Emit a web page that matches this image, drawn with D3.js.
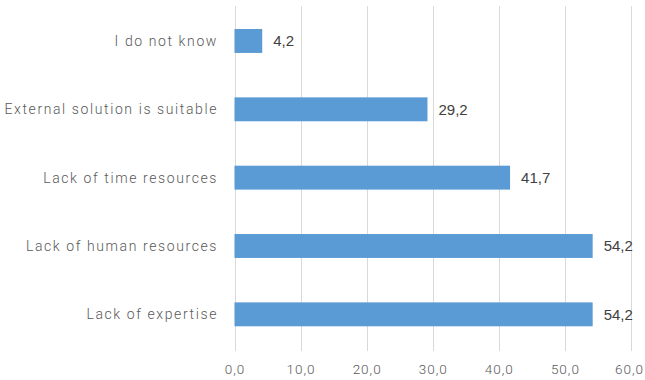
<!DOCTYPE html>
<html>
<head>
<meta charset="utf-8">
<script src="https://cdn.jsdelivr.net/npm/d3@7"></script>
<style>
  html, body { margin: 0; padding: 0; background: #fff; }
  .axis-text { font-family: Roboto, "DejaVu Sans", sans-serif; font-weight: 300; fill: #595959; }
  .value-text { font-family: "Liberation Sans", Arial, sans-serif; fill: #404040; }
</style>
</head>
<body>
<svg id="chart" width="645" height="380"></svg>
<script>
// Reasons, listed top to bottom
const categories = [
  "I do not know",
  "External solution is suitable",
  "Lack of time resources",
  "Lack of human resources",
  "Lack of expertise"
];
const values = [4.2, 29.2, 41.7, 54.2, 54.2];
const tickValues = [0, 10, 20, 30, 40, 50, 60];

const width = 645;
const svg = d3.select("#chart");
const fmt = v => v.toFixed(1).replace(".", ",");

const x = d3.scaleLinear().domain([0, 60]).range([234.5, 631]);
const y = d3.scaleBand().domain(categories).range([6.8, 348.5]).paddingInner(0.65).paddingOuter(0.325);

// vertical gridlines
svg.append("g")
  .selectAll("line")
  .data(tickValues)
  .join("line")
  .attr("x1", d => Math.round(x(d)) + 0.5)
  .attr("x2", d => Math.round(x(d)) + 0.5)
  .attr("y1", 6)
  .attr("y2", 351)
  .attr("stroke", "#d9d9d9")
  .attr("stroke-width", 1);

// bars
svg.append("g")
  .selectAll("rect")
  .data(values)
  .join("rect")
  .attr("x", x(0))
  .attr("y", (d, i) => y(categories[i]))
  .attr("width", d => x(d) - x(0))
  .attr("height", y.bandwidth())
  .attr("fill", "#5b9bd5");

// value labels
svg.append("g")
  .selectAll("text")
  .data(values)
  .join("text")
  .attr("class", "value-text")
  .attr("x", d => x(d) + 11)
  .attr("y", (d, i) => y(categories[i]) + y.bandwidth() / 2)
  .attr("dy", "0.36em")
  .attr("font-size", 15)
  .text(d => fmt(d));

// category labels
svg.append("g")
  .selectAll("text")
  .data(categories)
  .join("text")
  .attr("class", "axis-text")
  .attr("x", 218)
  .attr("y", d => y(d) + y.bandwidth() / 2)
  .attr("dy", "0.36em")
  .attr("text-anchor", "end")
  .attr("font-size", 14)
  .style("letter-spacing", "1.6px")
  .text(d => d);

// x tick labels, kept inside the right edge
svg.append("g")
  .selectAll("text")
  .data(tickValues)
  .join("text")
  .attr("class", "axis-text")
  .attr("y", 374)
  .attr("text-anchor", "middle")
  .attr("font-size", 13.5)
  .style("letter-spacing", "1px")
  .text(d => fmt(d))
  .attr("x", function(d) {
    const half = this.getComputedTextLength() / 2;
    return Math.min(x(d) + 0.5, width - half - 1);
  });
</script>
</body>
</html>
